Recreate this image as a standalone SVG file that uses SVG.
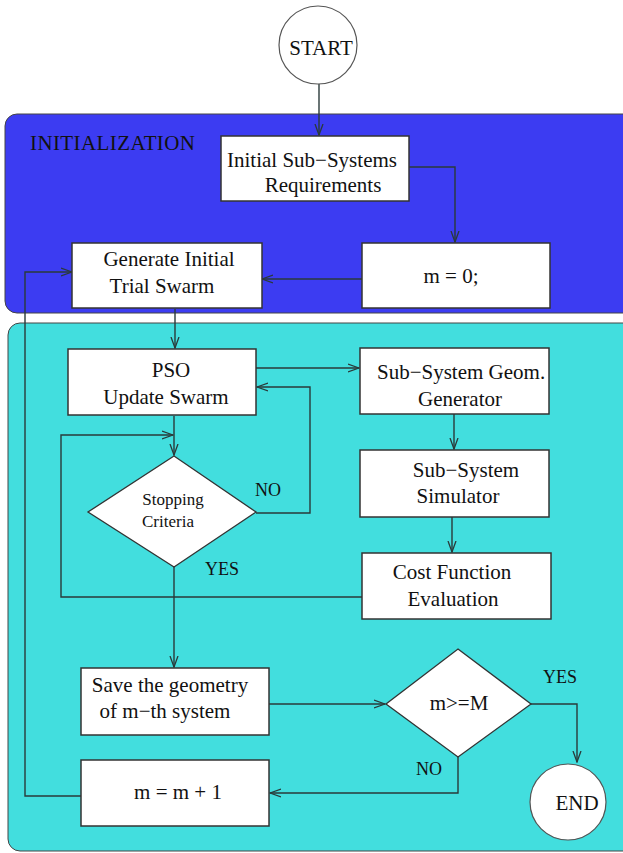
<svg xmlns="http://www.w3.org/2000/svg" width="623" height="853" viewBox="0 0 623 853">
<style>
.t{font-family:"Liberation Serif","Times New Roman",serif;font-size:21px;fill:#111;text-anchor:middle}
.s{font-size:17px}
.l{font-size:18px}
.box{fill:#fff;stroke:#333;stroke-width:1.5}
.ln{fill:none;stroke:#2a3a3a;stroke-width:1.4}
</style>
<defs>
<marker id="ar" markerWidth="12" markerHeight="10" refX="11" refY="5" orient="auto" markerUnits="userSpaceOnUse">
<path d="M0,1 L11,5 L0,9" fill="none" stroke="#2a3a3a" stroke-width="1.3"/>
</marker>
</defs>
<rect x="0" y="0" width="623" height="853" fill="#fff"/>
<g id="panel-init">
<rect x="5" y="114" width="630" height="199" rx="12" fill="#3c3cf2" stroke="#444" stroke-width="1"/>
<text class="t" x="30" y="150" style="text-anchor:start" font-size="20" textLength="165">INITIALIZATION</text>
</g>
<g id="panel-loop">
<rect x="8" y="323" width="630" height="528" rx="12" fill="#42dede" stroke="#444" stroke-width="1"/>
</g>
<g id="connectors">
<path class="ln" d="M319,84 V135" marker-end="url(#ar)"/>
<path class="ln" d="M409,167 H455 V242" marker-end="url(#ar)"/>
<path class="ln" d="M362,279 H262" marker-end="url(#ar)"/>
<path class="ln" d="M81,796 H25 V272 H72" marker-end="url(#ar)"/>
<path class="ln" d="M175,309 V348" marker-end="url(#ar)"/>
<path class="ln" d="M256,368 H359" marker-end="url(#ar)"/>
<path class="ln" d="M454,414 V449" marker-end="url(#ar)"/>
<path class="ln" d="M452,517 V552" marker-end="url(#ar)"/>
<path class="ln" d="M362,597 H61 V435 H173" marker-end="url(#ar)"/>
<path class="ln" d="M174,416 V455" marker-end="url(#ar)"/>
<path class="ln" d="M256,513 H310 V387 H257" marker-end="url(#ar)"/>
<path class="ln" d="M174,567 V667" marker-end="url(#ar)"/>
<path class="ln" d="M269,704 H385" marker-end="url(#ar)"/>
<path class="ln" d="M531,704 H577 V762" marker-end="url(#ar)"/>
<path class="ln" d="M458,757 V793 H270" marker-end="url(#ar)"/>
</g>
<g id="start">
<circle cx="318" cy="45" r="39" fill="#fff" stroke="#555" stroke-width="1.2"/>
<text class="t" x="321" y="55">START</text>
</g>
<g id="initial-req">
<rect class="box" x="221" y="136" width="188" height="65"/>
<text class="t" x="312" y="167">Initial Sub−Systems</text>
<text class="t" x="323" y="192">Requirements</text>
</g>
<g id="m0">
<rect class="box" x="362" y="243" width="188" height="65"/>
<text class="t" x="451" y="283">m = 0;</text>
</g>
<g id="generate">
<rect class="box" x="72" y="243" width="190" height="65"/>
<text class="t" x="169" y="266">Generate Initial</text>
<text class="t" x="162" y="293">Trial Swarm</text>
</g>
<g id="pso">
<rect class="box" x="68" y="349" width="188" height="66"/>
<text class="t" x="171" y="377">PSO</text>
<text class="t" x="166" y="404">Update Swarm</text>
</g>
<g id="geom">
<rect class="box" x="360" y="348" width="189" height="66"/>
<text class="t" x="377" y="379" style="text-anchor:start">Sub−System Geom.</text>
<text class="t" x="460" y="406">Generator</text>
</g>
<g id="simulator">
<rect class="box" x="360" y="450" width="189" height="67"/>
<text class="t" x="466" y="477">Sub−System</text>
<text class="t" x="458" y="503">Simulator</text>
</g>
<g id="cost">
<rect class="box" x="362" y="553" width="189" height="66"/>
<text class="t" x="452" y="579">Cost Function</text>
<text class="t" x="453" y="606">Evaluation</text>
</g>
<g id="stopping">
<path d="M174,456 L256,512 L174,567 L88,512 Z" fill="#fff" stroke="#333" stroke-width="1.3"/>
<text class="t s" x="173" y="505">Stopping</text>
<text class="t s" x="168" y="527">Criteria</text>
<text class="t l" x="268" y="496">NO</text>
<text class="t l" x="222" y="575">YES</text>
</g>
<g id="save">
<rect class="box" x="81" y="668" width="188" height="67"/>
<text class="t" x="170" y="692">Save the geometry</text>
<text class="t" x="165" y="718">of m−th system</text>
</g>
<g id="check">
<path d="M458,649 L531,704 L458,757 L386,704 Z" fill="#fff" stroke="#333" stroke-width="1.3"/>
<text class="t" x="459" y="710">m&gt;=M</text>
<text class="t l" x="560" y="683">YES</text>
<text class="t l" x="429" y="775">NO</text>
</g>
<g id="increment">
<rect class="box" x="81" y="760" width="188" height="66"/>
<text class="t" x="178" y="799">m = m + 1</text>
</g>
<g id="end">
<circle cx="568" cy="802" r="38" fill="#fff" stroke="#555" stroke-width="1.2"/>
<text class="t" x="577" y="810">END</text>
</g>
</svg>
